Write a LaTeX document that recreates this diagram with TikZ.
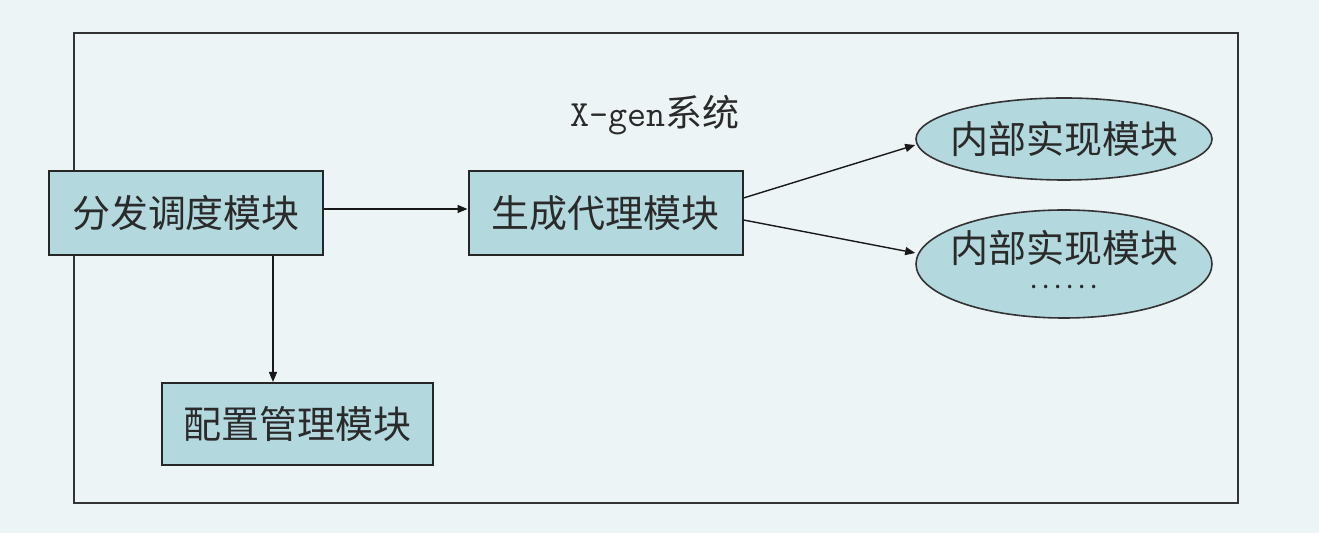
\documentclass[tikz,border=0pt]{standalone}
\usepackage{fontspec}
\newfontfamily\cjk{Noto Sans CJK SC}
\usetikzlibrary{shapes.geometric,arrows.meta}
\definecolor{bgc}{HTML}{EDF4F6}
\definecolor{boxc}{HTML}{B3D8DE}
\definecolor{txtc}{HTML}{2A2A2A}
\newcommand{\sixdots}{\makebox[34pt]{.\hfill.\hfill.\hfill.\hfill.\hfill.}}
\begin{document}
\begin{tikzpicture}[x=0.5pt,y=-0.5pt,
  modbox/.style={draw=black!85,line width=1pt,fill=boxc,minimum width=137pt,minimum height=42pt,inner sep=0pt,
    font=\cjk\fontsize{19}{22}\selectfont,text=txtc},
  modell/.style={draw=black!80,line width=0.8pt,fill=boxc,ellipse,minimum width=148pt,inner sep=0pt},
  elltext/.style={font=\cjk\fontsize{19}{19}\selectfont,text=txtc,align=center,inner sep=0pt},
  arr/.style={line width=0.7pt,draw=black!90,-{Triangle[length=5pt,width=4pt]}}]
\useasboundingbox (0,0) rectangle (1319,533);
\fill[bgc] (0,0) rectangle (1319,533);
\node[draw=black!80,line width=0.7pt,minimum width=582pt,minimum height=235pt,inner sep=0pt] (sys) at (656,268) {};
\node[font=\fontsize{18.5}{20}\selectfont,text=txtc,inner sep=0pt] (title) at (655,115) {{\ttfamily X-gen}{\cjk 系统}};
\node[modbox] (A) at (186,213) {分发调度模块};
\node[modbox] (B) at (605.5,213) {生成代理模块};
\node[modbox,minimum width=135.5pt,minimum height=41pt] (C) at (297.5,424) {配置管理模块};
\node[modell,minimum height=41pt,label={[elltext]center:内部实现模块}] (E1) at (1064,139) {};
\node[modell,minimum height=54pt,label={[elltext,yshift=2pt]center:内部实现模块\\[-6pt]{\fontsize{13}{13}\selectfont\sixdots}}] (E2) at (1064,264) {};
\draw[arr] ([yshift=2pt]A.east) -- ([yshift=2pt]B.west);
\draw[arr] ([xshift=43.5pt]A.south) -- ([xshift=43.5pt]A.south |- C.north);
\draw[arr] ([yshift=7.5pt]B.east) -- ([yshift=-3pt]E1.west);
\draw[arr] ([yshift=-3.5pt]B.east) -- ([yshift=5.5pt]E2.west);
\end{tikzpicture}
\end{document}
